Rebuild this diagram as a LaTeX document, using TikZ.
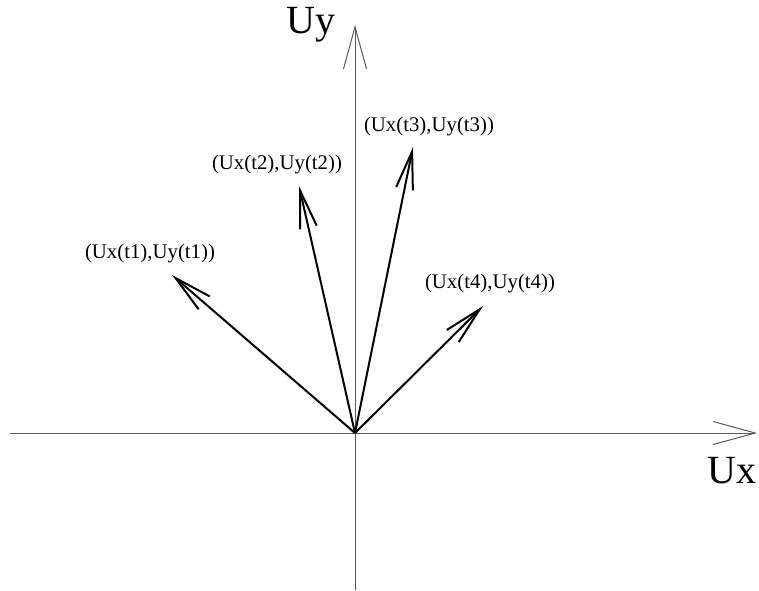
\documentclass[tikz,border=0pt]{standalone}
\usepackage{fontspec}
\setmainfont{Liberation Serif}
\usepackage{tikz}
\usetikzlibrary{arrows.meta}
\tikzset{
  axis/.style={line width=1pt,black!65,-{Straight Barb[length=42pt,width=23pt,line width=1pt]}},
  vec/.style={line width=2pt,black,-{Straight Barb[length=38pt,width=17pt,line width=2pt]}},
  comp/.style={font=\fontsize{20.8}{25}\selectfont},
  axlabel/.style={font=\fontsize{40}{46}\selectfont,anchor=base}
}

\begin{document}
\begin{tikzpicture}[x=1pt,y=-1pt]
    \useasboundingbox (0,0) rectangle (759,590);
    \coordinate (O) at (355,433);
    \coordinate (xl) at (10,433);
    \coordinate (xr) at (757,433);
    \coordinate (yb) at (355,590);
    \coordinate (yt) at (355,25);
    \draw[axis] (xl)--(xr);
    \draw[axis] (yb)--(yt);
    \node[axlabel] (ux) at (732,483) {Ux};
    \node[axlabel] (uy) at (311,33) {Uy};
    \coordinate (v1) at (172,275);
    \coordinate (v2) at (299,186);
    \coordinate (v3) at (413,147);
    \coordinate (v4) at (483,306);
    \foreach \v in {v1,v2,v3,v4}{\draw[vec] (O)--(\v);}
    \node[comp] (l1) at (150,254) {(Ux(t1),Uy(t1))};
    \node[comp] (l2) at (277,165) {(Ux(t2),Uy(t2))};
    \node[comp] (l3) at (429,127) {(Ux(t3),Uy(t3))};
    \node[comp] (l4) at (490,284) {(Ux(t4),Uy(t4))};
\end{tikzpicture}
\end{document}
